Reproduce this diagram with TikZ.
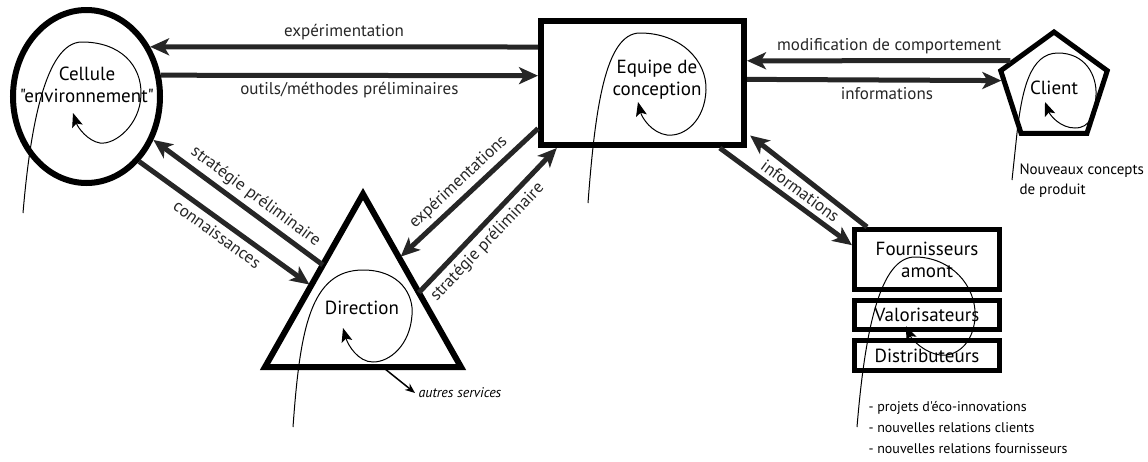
\documentclass[tikz,border=0pt]{standalone}
\usepackage{fontspec}
\setmainfont{PT Sans}[Ligatures=TeXOff]
\usetikzlibrary{arrows.meta, shapes.geometric, calc}

\tikzset{
  flow/.style={line width=5pt, black!85, -{Stealth[length=19pt,width=17pt,inset=5pt]}},
  loopline/.style={line width=1pt, -{Stealth[length=14pt,width=11pt,inset=3pt]}},
  lbl/.style={font=\fontsize{17}{19}\selectfont, inner sep=4.5pt},
  txt/.style={font=\fontsize{19}{22}\selectfont, align=center},
  note/.style={font=\fontsize{15}{20}\selectfont, align=left, anchor=north west},
  stackbox/.style={draw, line width=5pt, minimum width=145pt, inner sep=1pt, txt},
}

\begin{document}
\begin{tikzpicture}[x=1pt, y=-1pt]
\useasboundingbox (0,0) rectangle (1148,461);

% acteurs
\node[draw, ellipse, line width=6pt, minimum width=147pt, minimum height=173pt, inner sep=0pt] (cell) at (86.5,96.5) {};
\node[txt] (celltxt) at (87,85) {Cellule\\"environnement"};

\node[draw, rectangle, line width=6pt, minimum width=203pt, minimum height=124pt] (eq) at (642.5,83) {};
\node[txt] (eqtxt) at (657,80) {Equipe de\\conception};

\node[draw, regular polygon, regular polygon sides=5, line width=5pt, minimum size=112pt, inner sep=0pt, txt] (client) at (1054,88) {Client};

\coordinate (dA) at (363,194);
\coordinate (dL) at (265,367);
\coordinate (dR) at (461,367);
\draw[line width=6pt, line join=miter] (dA) -- (dL) -- (dR) -- cycle;
\node[txt] (dir) at (362,308) {Direction};

\node[stackbox, minimum height=60pt] (four) at (927,259.5) {Fournisseurs\\amont};
\node[stackbox, minimum height=29pt] (valo) at (927,315) {Valorisateurs};
\node[stackbox, minimum height=30pt] (dist) at (927,355.5) {Distributeurs};

% flux
\draw[flow] (eq.161) -- (cell.38) node[lbl, midway, above] {expérimentation};
\draw[flow] (cell.16) -- (eq.176) node[lbl, midway, below] {outils/méthodes préliminaires};
\draw[flow] (client.148) -- (eq.12) node[lbl, pos=0.46, above] {modification de comportement};
\draw[flow] (eq.2) -- (client.172) node[lbl, pos=0.55, below] {informations};

\draw[flow] ($(dA)!0.41!(dL)$) -- (cell.-33) node[lbl, sloped, pos=0.45, above] {stratégie préliminaire};
\draw[flow, shorten >=2pt] (cell.-51) -- ($(dA)!0.53!(dL)$) node[lbl, sloped, midway, below] {connaissances};

\draw[flow, shorten >=2pt] ($(eq.north west)!0.85!(eq.south west)$) -- ($(dA)!0.37!(dR)$) node[lbl, sloped, midway, above] {expérimentations};
\draw[flow] ($(dA)!0.57!(dR)$) -- ($(eq.south west)!0.09!(eq.south east)$) node[lbl, sloped, pos=0.42, below] {stratégie préliminaire};

\draw[flow] ($(eq.south west)!0.87!(eq.south east)$) -- ($(four.north west)!0.28!(four.south west)$) node[lbl, sloped, pos=0.55, above] {informations};
\draw[flow, shorten >=4pt] ($(four.north west)!0.1!(four.north east)$) -- ($(eq.north east)!0.885!(eq.south east)$);

% boucles
\draw[loopline] (23,213) .. controls (30,130) and (45,42) .. (82,42) .. controls (120,42) and (142,65) .. (141,95) .. controls (140,125) and (115,145) .. (100,143) .. controls (88,141) and (78,128) .. (73,113);
\draw[loopline] (588,203) .. controls (595,110) and (605,33) .. (640,33) .. controls (680,33) and (707,60) .. (706,90) .. controls (705,120) and (685,137) .. (667,135) .. controls (652,133) and (642,118) .. (638,102);
\draw[loopline] (1012,180) -- (1017,133) .. controls (1022,90) and (1030,53) .. (1058,53) .. controls (1085,53) and (1097,75) .. (1096,95) .. controls (1095,115) and (1090,128) .. (1075,128) .. controls (1060,128) and (1050,115) .. (1045,102);
\draw[loopline] (293,427) .. controls (300,330) and (310,270) .. (363,270) .. controls (400,270) and (414,295) .. (412,315) .. controls (410,345) and (390,362) .. (373,362) .. controls (358,362) and (348,345) .. (343,328);
\draw[loopline] (857,427) .. controls (865,330) and (880,257) .. (915,257) .. controls (950,257) and (977,285) .. (975,318) .. controls (973,345) and (955,357) .. (940,355) .. controls (925,353) and (912,340) .. (906,326);

% notes
\node[font=\fontsize{14}{16}\selectfont\itshape, anchor=west] (autres) at (415,393) {autres services};
\draw[line width=1.5pt, -{Stealth[length=10pt,width=8pt]}] ($(dL)!0.6!(dR)$) -- (autres.west);
\node[note] (concepts) at (1016,160) {Nouveaux concepts\\de produit};
\node[note, font=\fontsize{14}{21}\selectfont] (projets) at (865,398) {- projets d'éco-innovations\\- nouvelles relations clients\\- nouvelles relations fournisseurs};
\end{tikzpicture}
\end{document}
